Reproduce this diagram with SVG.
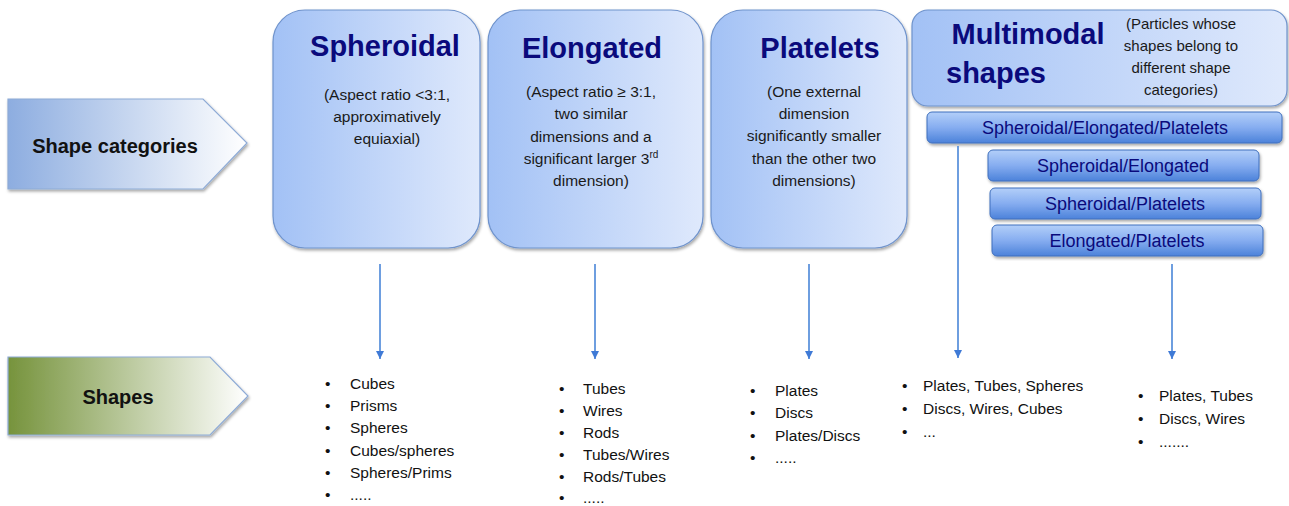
<svg xmlns="http://www.w3.org/2000/svg" width="1289" height="506" viewBox="0 0 1289 506">
<defs>
<linearGradient id="gBox" x1="0" y1="0" x2="1" y2="0">
<stop offset="0" stop-color="#a2c1f5"/><stop offset="1" stop-color="#dfe9fc"/>
</linearGradient>
<linearGradient id="gBar" x1="0" y1="0" x2="0" y2="1">
<stop offset="0" stop-color="#b3cff9"/><stop offset="0.5" stop-color="#86adf0"/><stop offset="1" stop-color="#4c82da"/>
</linearGradient>
<linearGradient id="gCat" x1="0" y1="0" x2="1" y2="0">
<stop offset="0" stop-color="#8dade0"/><stop offset="1" stop-color="#ffffff"/>
</linearGradient>
<linearGradient id="gShp" x1="0" y1="0" x2="1" y2="0">
<stop offset="0" stop-color="#76933c"/><stop offset="1" stop-color="#ffffff"/>
</linearGradient>
<filter id="sh" x="-10%" y="-10%" width="120%" height="125%">
<feDropShadow dx="1" dy="2" stdDeviation="1.5" flood-color="#000" flood-opacity="0.35"/>
</filter>
<marker id="ah2" viewBox="0 0 10 10" refX="10" refY="5" markerWidth="5" markerHeight="5" orient="auto" markerUnits="strokeWidth">
<path d="M0,0 L10,5 L0,10 Z" fill="#3f7ad6"/>
</marker>
</defs>
<style>
.box{fill:url(#gBox);stroke:#6f93cc;stroke-width:1.2;filter:url(#sh)}
.bar{fill:url(#gBar);stroke:#3f6fbd;stroke-width:1;filter:url(#sh)}
.title{font-family:"Liberation Sans",Arial,sans-serif;font-weight:bold;font-size:29px;fill:#0a0a7c;text-anchor:middle}
.sub{font-family:"Liberation Sans",Arial,sans-serif;font-size:15.5px;fill:#1a1a1a;text-anchor:middle}
.bartx{font-family:"Liberation Sans",Arial,sans-serif;font-size:18px;fill:#0a0a7c;text-anchor:middle}
.lbl{font-family:"Liberation Sans",Arial,sans-serif;font-weight:bold;font-size:20px;fill:#111;text-anchor:middle}
.li{font-family:"Liberation Sans",Arial,sans-serif;font-size:15.5px;fill:#111}
.conn{stroke:#4a86d8;stroke-width:1.6;fill:none;marker-end:url(#ah2)}
</style>

<g id="shape-categories">
<path d="M8,99 L203,99 L247,143 L203,189 L8,189 Z" fill="url(#gCat)" stroke="#8eabd6" stroke-width="1.2" filter="url(#sh)"/>
<text class="lbl" x="115" y="153">Shape categories</text>
</g>
<g id="shapes">
<path d="M8,357 L210,357 L248,396 L210,435 L8,435 Z" fill="url(#gShp)" stroke="#8eabd6" stroke-width="1.2" filter="url(#sh)"/>
<text class="lbl" x="118" y="404">Shapes</text>
</g>

<g id="spheroidal">
<rect class="box" x="273" y="10" width="207" height="238" rx="32"/>
<text class="title" x="385" y="56">Spheroidal</text>
<text class="sub"><tspan x="387" y="100">(Aspect ratio &lt;3:1,</tspan><tspan x="387" y="122">approximatively</tspan><tspan x="387" y="144">equiaxial)</tspan></text>
</g>
<g id="elongated">
<rect class="box" x="488" y="10" width="215" height="238" rx="32"/>
<text class="title" x="592" y="58">Elongated</text>
<text class="sub"><tspan x="591" y="97">(Aspect ratio ≥ 3:1,</tspan><tspan x="591" y="119">two similar</tspan><tspan x="591" y="142">dimensions and a</tspan><tspan x="591" y="164">significant larger 3<tspan font-size="10" dy="-6">rd</tspan></tspan><tspan x="591" y="186">dimension)</tspan></text>
</g>
<g id="platelets">
<rect class="box" x="711" y="10" width="196" height="238" rx="32"/>
<text class="title" x="820" y="58">Platelets</text>
<text class="sub"><tspan x="814" y="97">(One external</tspan><tspan x="814" y="119">dimension</tspan><tspan x="814" y="141">significantly smaller</tspan><tspan x="814" y="164">than the other two</tspan><tspan x="814" y="186">dimensions)</tspan></text>
</g>
<g id="multimodal">
<rect class="box" x="912" y="10" width="375" height="96" rx="16"/>
<text class="title" x="1028" y="44">Multimodal</text>
<text class="title" x="996" y="83">shapes</text>
<text class="sub" style="font-size:15px"><tspan x="1181" y="29">(Particles whose</tspan><tspan x="1181" y="51">shapes belong to</tspan><tspan x="1181" y="73">different shape</tspan><tspan x="1181" y="95">categories)</tspan></text>
</g>
<g id="sep">
<rect class="bar" x="927" y="112" width="355" height="31" rx="5"/>
<text class="bartx" x="1105" y="134">Spheroidal/Elongated/Platelets</text>
</g>
<g id="se">
<rect class="bar" x="988" y="150" width="271" height="31" rx="5"/>
<text class="bartx" x="1123" y="172">Spheroidal/Elongated</text>
</g>
<g id="sp">
<rect class="bar" x="990" y="188" width="271" height="31" rx="5"/>
<text class="bartx" x="1125" y="210">Spheroidal/Platelets</text>
</g>
<g id="ep">
<rect class="bar" x="992" y="225" width="271" height="31" rx="5"/>
<text class="bartx" x="1127" y="247">Elongated/Platelets</text>
</g>

<g id="connectors">
<line class="conn" x1="380" y1="264" x2="380" y2="359"/>
<line class="conn" x1="595" y1="264" x2="595" y2="359"/>
<line class="conn" x1="809" y1="264" x2="809" y2="359"/>
<line class="conn" x1="958" y1="146" x2="958" y2="358"/>
<line class="conn" x1="1172" y1="264" x2="1172" y2="359"/>
</g>

<g id="list-spheroidal" class="li">
<text x="325" y="389">•</text><text x="350" y="389">Cubes</text>
<text x="325" y="411">•</text><text x="350" y="411">Prisms</text>
<text x="325" y="433">•</text><text x="350" y="433">Spheres</text>
<text x="325" y="456">•</text><text x="350" y="456">Cubes/spheres</text>
<text x="325" y="478">•</text><text x="350" y="478">Spheres/Prims</text>
<text x="325" y="500">•</text><text x="350" y="500">.....</text>
</g>
<g id="list-elongated" class="li">
<text x="559" y="394">•</text><text x="583" y="394">Tubes</text>
<text x="559" y="416">•</text><text x="583" y="416">Wires</text>
<text x="559" y="438">•</text><text x="583" y="438">Rods</text>
<text x="559" y="460">•</text><text x="583" y="460">Tubes/Wires</text>
<text x="559" y="482">•</text><text x="583" y="482">Rods/Tubes</text>
<text x="559" y="503">•</text><text x="583" y="503">.....</text>
</g>
<g id="list-platelets" class="li">
<text x="750" y="396">•</text><text x="775" y="396">Plates</text>
<text x="750" y="418">•</text><text x="775" y="418">Discs</text>
<text x="750" y="441">•</text><text x="775" y="441">Plates/Discs</text>
<text x="750" y="463">•</text><text x="775" y="463">.....</text>
</g>
<g id="list-multi1" class="li">
<text x="902" y="391">•</text><text x="923" y="391">Plates, Tubes, Spheres</text>
<text x="902" y="414">•</text><text x="923" y="414">Discs, Wires, Cubes</text>
<text x="902" y="437">•</text><text x="923" y="437">...</text>
</g>
<g id="list-multi2" class="li">
<text x="1138" y="401">•</text><text x="1159" y="401">Plates, Tubes</text>
<text x="1138" y="424">•</text><text x="1159" y="424">Discs, Wires</text>
<text x="1138" y="447">•</text><text x="1159" y="447">.......</text>
</g>
</svg>
